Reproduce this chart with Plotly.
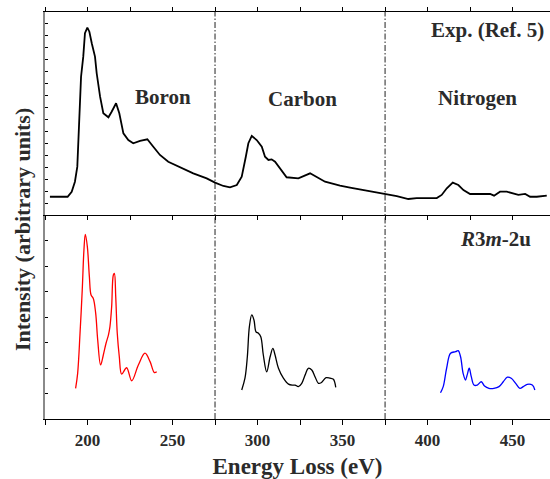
import plotly.graph_objects as go

# Experimental spectrum (top panel)
exp_x = [177.9, 188.3, 190.7, 192.6, 194.0, 195.0, 196.2, 197.5, 198.5, 199.9, 201.1, 202.5, 204.4, 205.4,
         207.4, 209.3, 212.3, 214.2, 216.8, 218.7, 221.1, 224.0, 226.9, 230.9, 235.2, 238.7, 242.6, 247.5,
         253.4, 262.2, 270.1, 275.0, 279.9, 283.8, 287.8, 290.7, 293.1, 294.6, 296.6, 299.5, 302.5, 304.4,
         306.4, 308.3, 310.3, 313.2, 317.1, 324.0, 330.9, 339.7, 348.5, 354.4, 362.2, 370.1, 375.0, 381.9,
         388.7, 393.6, 405.4, 408.3, 411.3, 414.8, 418.1, 421.1, 425.0, 432.8, 436.8, 439.1, 442.6, 446.6,
         450.5, 453.4, 457.4, 460.3, 464.2, 470.1]
exp_y = [1.53, 1.53, 1.95, 2.79, 4.05, 7.68, 11.58, 13.26, 15.22, 15.69, 15.35, 14.38, 13.26, 11.87,
         9.91, 8.52, 8.18, 8.65, 9.36, 8.52, 6.84, 6.28, 6.01, 6.20, 6.34, 5.72, 5.03, 4.46,
         4.05, 3.49, 3.07, 2.71, 2.43, 2.32, 2.51, 3.21, 4.88, 6.01, 6.62, 6.28, 5.72, 4.88,
         4.61, 4.66, 4.46, 3.91, 3.16, 3.07, 3.49, 2.79, 2.45, 2.29, 2.09, 1.90, 1.82, 1.59,
         1.34, 1.42, 1.42, 1.68, 2.24, 2.71, 2.51, 2.09, 1.76, 1.73, 1.76, 1.62, 1.95, 1.95,
         1.82, 1.68, 1.76, 1.53, 1.53, 1.62]

# Calculated spectra (bottom panel)
boron_x = [193.0, 194.2, 195.6, 196.9, 197.9, 198.7, 199.9, 201.1, 202.1, 203.4, 204.8, 206.0, 207.7,
           209.3, 210.9, 212.3, 213.2, 214.2, 215.2, 215.8, 216.6, 217.5, 218.7, 220.1, 223.0, 226.0,
           229.9, 233.8, 236.8, 239.3, 240.7]
boron_y = [1.20, 1.79, 3.36, 5.06, 6.63, 7.24, 6.76, 5.58, 4.86, 4.73, 4.15, 3.10, 2.12,
           2.51, 2.97, 3.29, 3.62, 4.40, 5.65, 5.71, 4.80, 3.36, 2.44, 1.76, 2.01, 1.50,
           2.12, 2.58, 2.25, 1.82, 1.85]

carbon_x = [290.7, 292.6, 294.0, 295.2, 296.6, 297.9, 299.1, 300.5, 301.9, 303.4, 305.4, 307.4, 309.0,
            310.3, 312.3, 315.2, 318.2, 320.7, 322.1, 324.0, 326.0, 328.0, 329.9, 331.9, 333.8, 335.8,
            337.4, 340.3, 342.6, 344.6, 346.0]
carbon_y = [1.14, 1.60, 2.44, 3.62, 4.08, 3.88, 3.42, 3.36, 3.23, 2.51, 1.85, 2.44, 2.77,
            2.51, 1.99, 1.60, 1.37, 1.33, 1.33, 1.27, 1.40, 1.73, 1.99, 1.92, 1.66, 1.40,
            1.42, 1.62, 1.60, 1.56, 1.24]

nitrogen_x = [407.6, 409.2, 411.2, 413.5, 416.5, 418.0, 419.4, 420.9, 422.3, 423.3, 424.5, 425.7, 427.3,
              429.2, 431.6, 433.5, 436.1, 439.0, 442.0, 444.5, 446.9, 449.2, 451.8, 454.3, 456.3, 458.6,
              461.6, 463.1]
nitrogen_y = [1.03, 1.27, 1.99, 2.58, 2.64, 2.68, 2.44, 1.79, 1.53, 1.73, 1.99, 1.66, 1.33,
              1.33, 1.46, 1.29, 1.20, 1.20, 1.27, 1.46, 1.64, 1.60, 1.40, 1.20, 1.27, 1.36,
              1.33, 1.14]

edge_lines = [275, 375]
x_range = [175, 472]
FONT = "Liberation Serif"
TXT = "#2b2b2b"

fig = go.Figure()
fig.add_trace(go.Scatter(x=exp_x, y=exp_y, mode="lines", line=dict(color="black", width=1.8),
                         xaxis="x2", yaxis="y2", showlegend=False))
fig.add_trace(go.Scatter(x=boron_x, y=boron_y, mode="lines", line=dict(color="red", width=1.3, shape="spline"),
                         xaxis="x", yaxis="y", showlegend=False))
fig.add_trace(go.Scatter(x=carbon_x, y=carbon_y, mode="lines", line=dict(color="black", width=1.3, shape="spline"),
                         xaxis="x", yaxis="y", showlegend=False))
fig.add_trace(go.Scatter(x=nitrogen_x, y=nitrogen_y, mode="lines", line=dict(color="blue", width=1.3, shape="spline"),
                         xaxis="x", yaxis="y", showlegend=False))

for xv in edge_lines:
    fig.add_shape(type="line", xref="x", yref="paper", x0=xv, x1=xv, y0=0, y1=1,
                  line=dict(color="#222", width=1, dash="6px,2px,1.5px,2px"))

split = 204 / 407
tickfont = dict(family=FONT, size=17, color=TXT, weight="bold")

fig.update_layout(
    width=550, height=479,
    margin=dict(l=45, r=0, t=12, b=60),
    plot_bgcolor="white", paper_bgcolor="white",
    xaxis=dict(domain=[0, 1], anchor="y", range=x_range, dtick=50, ticks="outside", ticklen=5,
               tickwidth=1.2, tickcolor="black", showline=True, linecolor="black", linewidth=1.4,
               showgrid=False, zeroline=False, tickfont=tickfont,
               minor=dict(dtick=25, ticks="outside", ticklen=5, tickwidth=1.2, tickcolor="black"),
               title=dict(text="<b>Energy Loss (eV)</b>", font=dict(family=FONT, size=23, color=TXT), standoff=11)),
    yaxis=dict(domain=[0, split], anchor="x", range=[0, 8], dtick=1, ticks="inside", ticklen=3,
               tickwidth=1.2, tickcolor="black", showticklabels=False, showline=True, linecolor="#8a8a8a",
               linewidth=2.2, showgrid=False, zeroline=False),
    xaxis2=dict(domain=[0, 1], anchor="y2", matches="x", range=x_range, dtick=50, ticks="outside", ticklen=4,
                tickwidth=1.2, tickcolor="black", showline=True, linecolor="black", linewidth=1.4,
                mirror="ticks", showgrid=False, zeroline=False, showticklabels=False,
                minor=dict(dtick=25, ticks="outside", ticklen=4, tickwidth=1.2, tickcolor="black")),
    yaxis2=dict(domain=[split, 1], anchor="x2", range=[0, 17], dtick=1, ticks="inside", ticklen=3,
                tickwidth=1.2, tickcolor="black", showticklabels=False, showline=True, linecolor="#8a8a8a",
                linewidth=2.2, showgrid=False, zeroline=False),
)

ann_font = dict(family=FONT, size=21, color=TXT)
fig.add_annotation(x=469.7, y=15.49, xref="x2", yref="y2", text="<b>Exp. (Ref. 5)</b>", showarrow=False,
                   xanchor="right", yanchor="middle", font=ann_font)
fig.add_annotation(x=244.4, y=9.88, xref="x2", yref="y2", text="<b>Boron</b>", showarrow=False, font=ann_font)
fig.add_annotation(x=326.2, y=9.72, xref="x2", yref="y2", text="<b>Carbon</b>", showarrow=False, font=ann_font)
fig.add_annotation(x=429.4, y=9.8, xref="x2", yref="y2", text="<b>Nitrogen</b>", showarrow=False, font=ann_font)
fig.add_annotation(x=462.1, y=7.06, xref="x", yref="y", text="<b><i>R</i>3<i>m</i>-2u</b>", showarrow=False,
                   xanchor="right", yanchor="middle", font=ann_font)
fig.add_annotation(x=-23 / 505, y=(479 - 230 - 60) / 407, xref="paper", yref="paper",
                   text="<b>Intensity (arbitrary units)</b>", showarrow=False, textangle=-90,
                   xanchor="center", yanchor="middle", font=dict(family=FONT, size=22, color=TXT))

fig.write_html("out.html")
